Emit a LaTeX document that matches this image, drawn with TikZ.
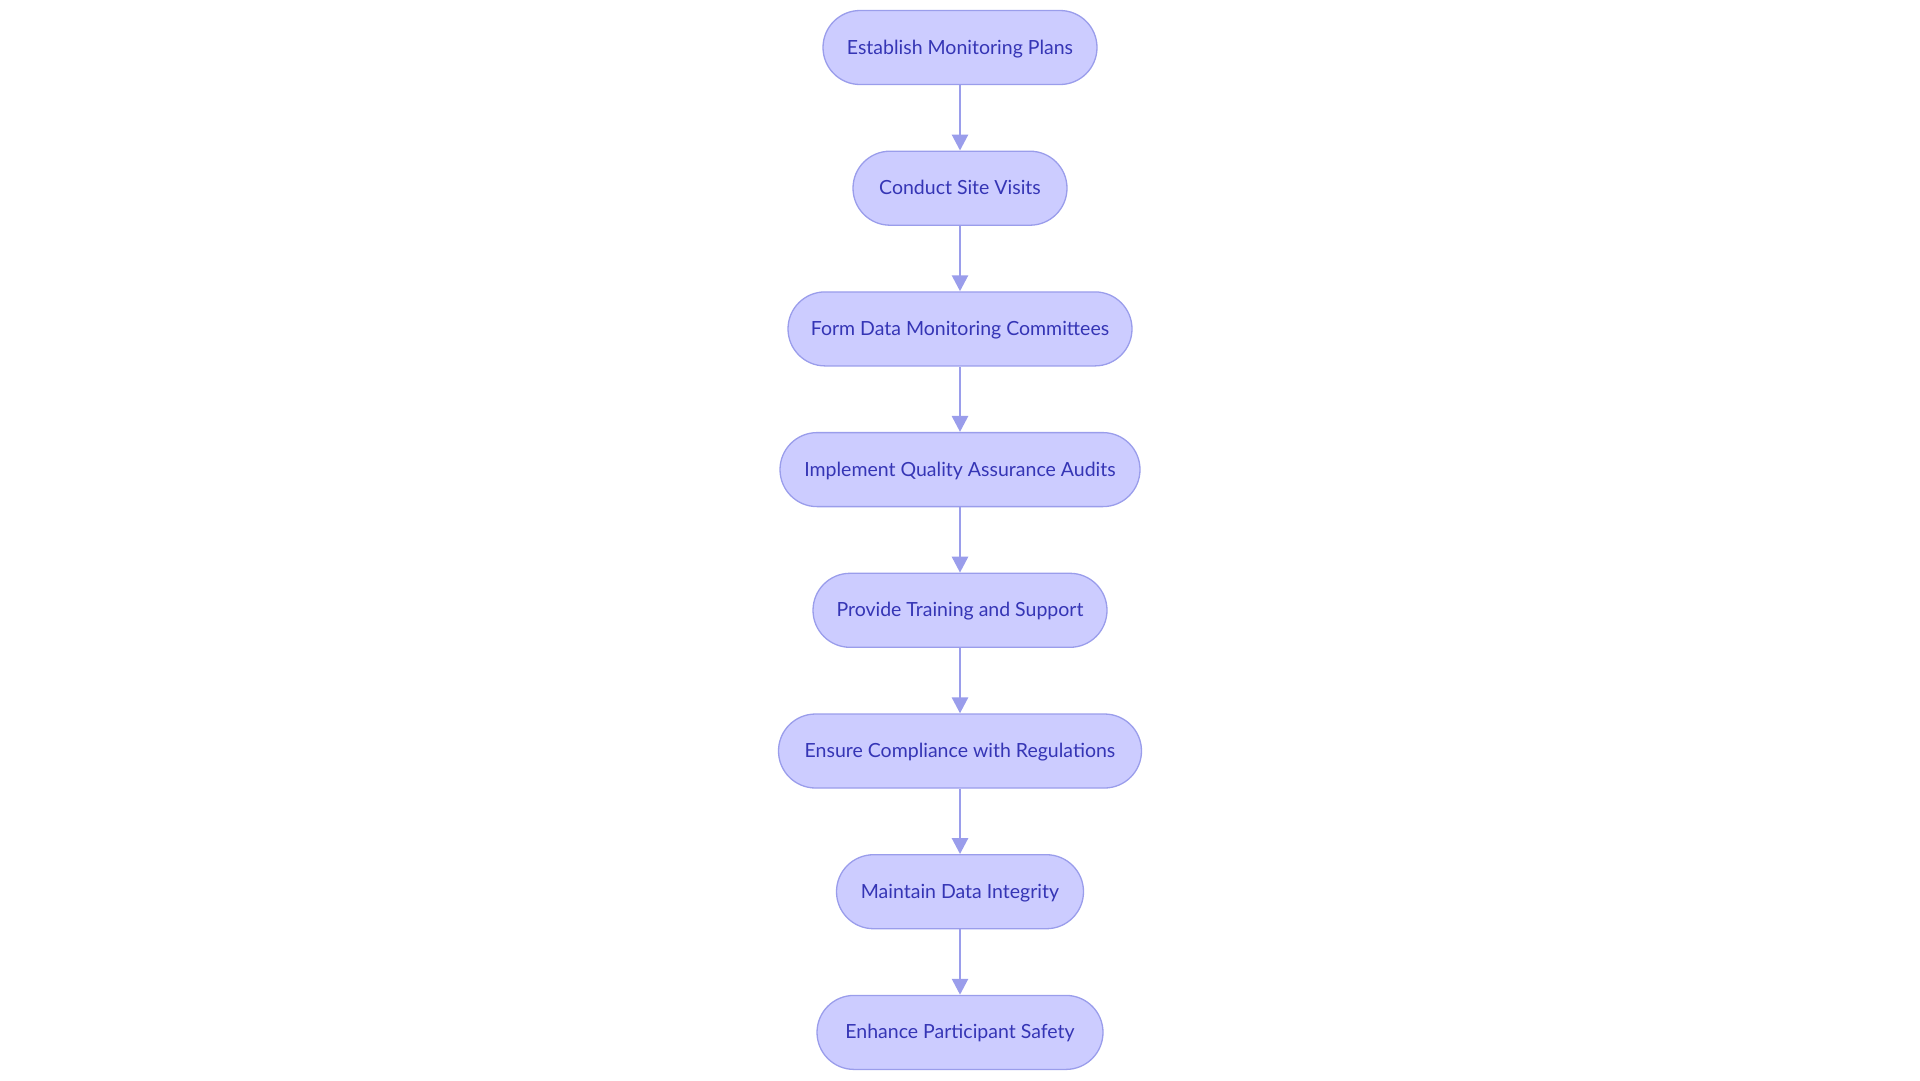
\documentclass[tikz,border=0pt]{standalone}
\usepackage{fontspec}
\setmainfont{Lato}
\usetikzlibrary{arrows.meta}
\definecolor{nodefill}{HTML}{CCCCFF}
\definecolor{nodedraw}{HTML}{9A9DEB}
\definecolor{nodetext}{HTML}{3535B5}
\definecolor{edgecol}{HTML}{9A9DEB}
\tikzset{
  flowbox/.style={draw=nodedraw, fill=nodefill, line width=1.3pt, rounded corners=37pt,
    minimum height=74pt, inner xsep=0pt, inner ysep=0pt, text=nodetext,
    text height=15pt, text depth=2pt,
    font=\fontsize{19.5}{23}\selectfont},
  flowarrow/.style={draw=edgecol, line width=2.8pt, -{Triangle[length=16pt,width=16pt]}}
}
\begin{document}
\begin{tikzpicture}[x=1pt,y=-1pt]
\useasboundingbox (0,0) rectangle (1920,1080);
\node[flowbox, minimum width=274pt] (n1) at (960,47.5) {Establish Monitoring Plans};
\node[flowbox, minimum width=214pt] (n2) at (960,188.2) {Conduct Site Visits};
\node[flowbox, minimum width=344pt] (n3) at (960,328.9) {Form Data Monitoring Committees};
\node[flowbox, minimum width=360pt] (n4) at (960,469.6) {Implement Quality Assurance Audits};
\node[flowbox, minimum width=294pt] (n5) at (960,610.3) {Provide Training and Support};
\node[flowbox, minimum width=363pt] (n6) at (960,751) {Ensure Compliance with Regulations};
\node[flowbox, minimum width=247pt] (n7) at (960,891.7) {Maintain Data Integrity};
\node[flowbox, minimum width=286pt] (n8) at (960,1032.4) {Enhance Participant Safety};
\foreach \a/\b in {n1/n2,n2/n3,n3/n4,n4/n5,n5/n6,n6/n7,n7/n8}
  \draw[flowarrow] (\a) -- (\b);
\end{tikzpicture}
\end{document}
